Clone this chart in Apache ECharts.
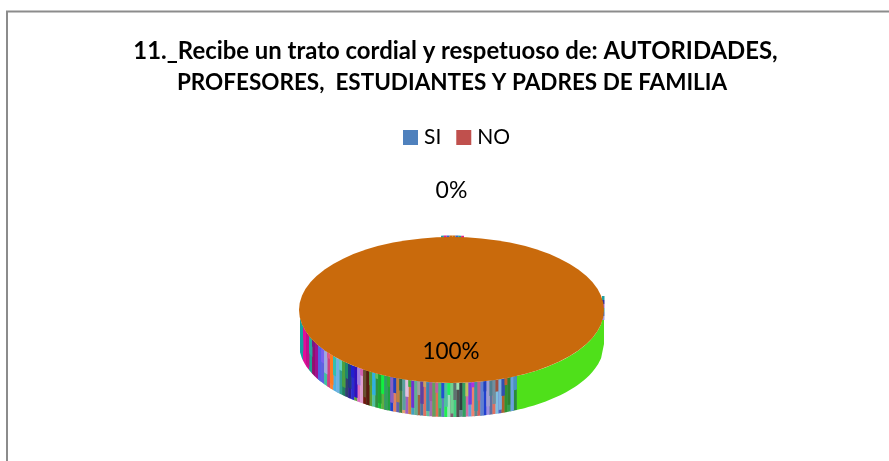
<!DOCTYPE html>
<html><head><meta charset="utf-8">
<style>html,body{margin:0;padding:0;background:#fff}#c{width:889px;height:461px}</style>
<script src="https://cdn.jsdelivr.net/npm/echarts@6/dist/echarts.min.js"></script>
</head><body><div id="c"></div>
<script>
const titleLines = ['11._Recibe un trato cordial y respetuoso de: AUTORIDADES,', 'PROFESORES,  ESTUDIANTES Y PADRES DE FAMILIA'];
const categories = ['SI', 'NO'];
const values = [0, 100];
const sliceColors = ['#4F81BD', '#C0504D'];
const topColor = '#C96A0C';
const greenWall = '#4FE01A';
const stripesUpper = ['#17a2a0','#e0109a','#c0108c','#2aa5a0','#7a1a80','#a0108f','#5560e8','#7a60f0','#a0a8e0','#e05a8a','#ff7a20','#30c0b0','#70b0e0','#5fd0c0','#4aa040','#1f8a6a','#203a80','#2020d0','#3010c0','#a080e0','#d060b0','#6a5030','#5a1a10','#50a040','#30b0e0','#60c060','#20a030','#10f040','#30a060','#30b030','#8a60c0','#2040c0','#c08040','#2f6a50','#5aa0a0','#e0c0e0','#40b040','#7030d0','#60b090','#a0a0a0','#6040a0','#d0a060','#4080b0','#a05aa0','#60a060','#c060a0','#40c080','#2050d0','#50c0a0','#20f060','#70d090','#607070','#a0e0b0','#304040','#30a060','#c0c060','#7040e0','#b030e0','#4090a0','#c06090','#6080d0','#2040c0','#a0a0d0','#508090','#7090a0','#a05040','#80b0e0','#3050b0','#c06030','#308030','#6aa0e0','#4a90c0'];
const stripesLower = ['#17a2a0','#e0109a','#d01090','#1fa090','#901070','#a0108f','#30b0a0','#6060e0','#40c0a0','#d04080','#ff8030','#50b0e0','#80e0d0','#30a090','#208060','#304070','#302090','#2a2ad0','#60a040','#e070c0','#e0a0d0','#701a10','#30a060','#60a030','#50c0a0','#309040','#10c030','#60b040','#a04090','#20a040','#2040d0','#e08060','#6060b0','#408040','#e0a070','#a060c0','#d08040','#40a0c0','#c0a0e0','#a06040','#5070a0','#e07060','#60c0a0','#a070b0','#e06060','#e07050','#40a060','#6080c0','#20f050','#a0e0c0','#806070','#40d080','#505050','#609090','#a090c0','#d070a0','#60a0e0','#f08070','#5a8a90','#d06060','#70a0b0','#2040d0','#a090e0','#6070a0','#e07060','#80c0e0','#5060c0','#b06030','#309030','#30a050','#3a9040','#2a8a3a'];
const stripeBreaks = [.7, .35, .9, .5, .2, .8, 1, .4, .65, .15, .85, .55, 1, .3, .75, .45];
const backRim = ['#20a0a0','#e0208a','#4060c0','#c96a0c','#c96a0c','#4060c0','#20a090','#e0208a'];
const sideRim = ['#20a0a0','#3030a0','#a060e0','#30a0a0','#4070c0','#a0a0e0'];
const labelTexts = ['0%', '100%'];

const total = values.reduce((a, b) => a + b, 0);
const cx = 451.5, cy = 310, rx = 152.5, ry = 73, depth = 34;
const wallFrom = 300, wallSplit = 516.5, wallTo = 604;
const front = x => cy + ry * Math.sqrt(Math.max(0, 1 - ((x - cx) / rx) ** 2));
const back = x => cy - ry * Math.sqrt(Math.max(0, 1 - ((x - cx) / rx) ** 2));
const frontBand = (x0, x1, d0, d1, color) => {
  const pts = [], n = Math.max(1, Math.ceil((x1 - x0) / 3));
  for (let i = 0; i <= n; i++) { const x = x0 + (x1 - x0) * i / n; pts.push([x, front(x) + d0]); }
  for (let i = n; i >= 0; i--) { const x = x0 + (x1 - x0) * i / n; pts.push([x, front(x) + d1]); }
  return { type: 'polygon', shape: { points: pts }, style: { fill: color } };
};
function renderNo(params, api) {
  const share = api.value(0) / total;
  const kids = [];
  kids.push(frontBand(wallSplit, wallTo, 0, depth, greenWall));
  const w = (wallSplit - wallFrom) / stripesUpper.length;
  stripesLower.forEach((c, i) => kids.push(frontBand(wallFrom + i * w, wallFrom + (i + 1) * w + .4, 0, depth, c)));
  stripesUpper.forEach((c, i) => kids.push(frontBand(wallFrom + i * w, wallFrom + (i + 1) * w + .4, 0, depth * stripeBreaks[i % stripeBreaks.length], c)));
  const rw = 23 / backRim.length;
  backRim.forEach((c, i) => {
    const x = 441 + i * rw;
    kids.push({ type: 'polygon', shape: { points: [[x, back(x) - 1.5], [x + rw, back(x + rw) - 1.5], [x + rw, back(x + rw) + 1], [x, back(x) + 1]] }, style: { fill: c } });
  });
  sideRim.forEach((c, i) => {
    const y = 296 + i * 4;
    kids.push({ type: 'rect', shape: { x: 602, y: y, width: 2.5, height: 4 }, style: { fill: c } });
  });
  kids.push({ type: 'sector', x: cx, y: cy, scaleY: ry / rx,
    shape: { cx: 0, cy: 0, r: rx, startAngle: -Math.PI / 2, endAngle: -Math.PI / 2 + share * Math.PI * 2 },
    style: { fill: topColor } });
  kids.push({ type: 'text', style: { x: 451, y: 351.5, text: labelTexts[1], fill: '#000', font: '22.5px Lato', align: 'center', verticalAlign: 'middle' } });
  return { type: 'group', children: kids };
}
function renderSi(params, api) {
  return { type: 'text', style: { x: 451.5, y: 190.5, text: labelTexts[0], fill: '#000', font: '23px Lato', align: 'center', verticalAlign: 'middle' } };
}
const chart = echarts.init(document.getElementById('c'), null, { renderer: 'canvas' });
chart.setOption({
  animation: false,
  backgroundColor: '#fff',
  title: { text: '{a|' + titleLines[0] + '}\n{b|' + titleLines[1] + '}', left: 450.5, top: 31, textAlign: 'center',
    textStyle: { rich: {
      a: { fontFamily: 'Lato', fontWeight: 'bold', fontSize: 23.9, lineHeight: 31, color: '#000', align: 'center' },
      b: { fontFamily: 'Lato', fontWeight: 'bold', fontSize: 22.5, lineHeight: 31, color: '#000', align: 'center', padding: [0, 7, 0, 0] } } } },
  legend: { data: categories, left: 403, top: 127, itemWidth: 15, itemHeight: 15, itemGap: 15, icon: 'rect',
    textStyle: { fontFamily: 'Lato', fontSize: 21, color: '#000', padding: [0, 0, 0, 1] }, padding: 0 },
  series: [
    { type: 'custom', name: categories[0], coordinateSystem: 'none', data: [[values[0]]], renderItem: renderSi, itemStyle: { color: sliceColors[0] }, silent: true, z: 3 },
    { type: 'custom', name: categories[1], coordinateSystem: 'none', data: [[values[1]]], renderItem: renderNo, itemStyle: { color: sliceColors[1] }, silent: true, z: 2 }
  ],
  graphic: [{ type: 'polyline', shape: { points: [[7, 461], [7, 11.5], [889, 11.5]] }, style: { stroke: '#8c8c8c', lineWidth: 2, fill: 'none' }, silent: true }]
});
</script></body></html>
